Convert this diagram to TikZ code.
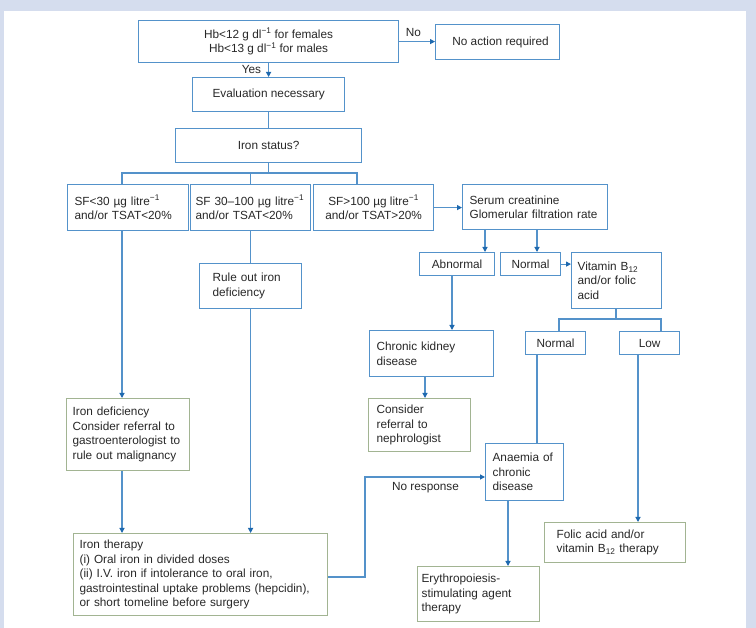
\documentclass[tikz,border=0pt]{standalone}
\usepackage{fontspec}
\setmainfont{Liberation Sans}
\usetikzlibrary{arrows.meta,calc}
\definecolor{bgc}{RGB}{213,221,238}
\definecolor{bl}{RGB}{84,146,202}
\definecolor{arr}{RGB}{30,105,175}
\definecolor{gr}{RGB}{162,180,146}
\definecolor{txt}{RGB}{40,40,40}
\begin{document}
\begin{tikzpicture}[x=1pt,y=-1pt,
  every node/.style={font=\fontsize{11.8}{14.5}\selectfont, text=txt},
  bx/.style={draw=bl, line width=1.2pt, anchor=north west, inner ysep=0pt, align=left},
  gx/.style={bx, draw=gr},
  cx/.style={bx, align=center, inner xsep=0pt},
  ln/.style={draw=bl, line width=1.1pt},
  ar/.style={ln, -{Triangle[length=5pt,width=5pt,color=arr]}},
  lbl/.style={inner sep=0pt}
]
\useasboundingbox (0,0) rectangle (756,628);
\fill[bgc] (0,0) rectangle (756,628);
\fill[white] (4,11) rectangle (746,628);

% boxes
\node[cx, minimum width=260pt, minimum height=42pt] (hb) at (138,20)
  {Hb<12 g dl\textsuperscript{−1} for females\\Hb<13 g dl\textsuperscript{−1} for males};
\node[cx, minimum width=124pt, minimum height=35pt] (noact) at (435,24) {\hspace{6pt}No action required};
\node[cx, minimum width=152pt, minimum height=34pt] (eval) at (192,77) {Evaluation necessary};
\node[cx, minimum width=186pt, minimum height=34pt] (iron) at (175,128) {Iron status?};

\node[bx, minimum width=121pt, minimum height=46pt, inner xsep=7pt, text width=107pt] (sf1) at (67,184)
  {SF<30 µg litre\textsuperscript{−1}\\and/or TSAT<20\%};
\node[bx, minimum width=120pt, minimum height=46pt, inner xsep=5pt, text width=110pt] (sf2) at (190,184)
  {SF 30–100 µg litre\textsuperscript{−1}\\and/or TSAT<20\%};
\node[cx, minimum width=120pt, minimum height=46pt] (sf3) at (313,184)
  {SF>100 µg litre\textsuperscript{−1}\\and/or TSAT>20\%};
\node[bx, minimum width=145pt, minimum height=45pt, inner xsep=7pt, text width=131pt] (serum) at (462,184)
  {Serum creatinine\\Glomerular filtration rate};

\node[cx, minimum width=75pt, minimum height=23pt] (abn) at (419,252) {Abnormal};
\node[cx, minimum width=60pt, minimum height=23pt] (norm) at (500,252) {Normal};
\node[bx, minimum width=90pt, minimum height=56pt, inner xsep=6pt, text width=78pt] (vit) at (571,252)
  {Vitamin B\textsubscript{12}\\and/or folic\\acid};
\node[bx, minimum width=102pt, minimum height=45pt, inner xsep=13pt, text width=76pt] (ruleout) at (199,263)
  {Rule out iron\\deficiency};

\node[bx, minimum width=124pt, minimum height=46pt, inner xsep=7pt, text width=110pt] (ckd) at (369,330)
  {Chronic kidney\\disease};
\node[cx, minimum width=60pt, minimum height=23pt] (norm2) at (525,331) {Normal};
\node[cx, minimum width=60pt, minimum height=23pt] (low) at (619,331) {Low};

\node[gx, minimum width=102pt, minimum height=53pt, inner xsep=8pt, text width=86pt] (neph) at (368,398)
  {Consider\\referral to\\nephrologist};
\node[gx, minimum width=123pt, minimum height=72pt, inner xsep=6pt, text width=111pt] (irondef) at (66,398)
  {Iron deficiency\\Consider referral to\\gastroenterologist to\\rule out malignancy};
\node[bx, minimum width=78pt, minimum height=57pt, inner xsep=7pt, text width=64pt] (anaem) at (485,443)
  {Anaemia of\\chronic\\disease};
\node[gx, minimum width=141pt, minimum height=40pt, inner xsep=12pt, text width=117pt] (folic) at (544,522)
  {Folic acid and/or\\vitamin B\textsubscript{12} therapy};
\node[gx, minimum width=254pt, minimum height=82pt, inner xsep=6pt, text width=242pt] (therapy) at (73,533)
  {Iron therapy\\(i) Oral iron in divided doses\\(ii) I.V. iron if intolerance to oral iron,\\gastrointestinal uptake problems (hepcidin),\\or short tomeline before surgery};
\node[gx, minimum width=122pt, minimum height=55pt, inner xsep=4pt, text width=114pt] (esa) at (417,566)
  {Erythropoiesis-\\stimulating agent\\therapy};

% labels
\node[lbl] (nolbl) at (413.5,33) {No};
\node[lbl] (yeslbl) at (251.5,70) {Yes};
\node[lbl] (nrlbl) at (425.5,488) {No response};

% connectors
\draw[ar] (hb.east) -- (hb.east -| noact.west);
\draw[ar] (hb.south) -- (eval.north);
\draw[ln] (eval.south) -- (iron.north);

\coordinate (b1) at (122,173);
\coordinate (b3) at (357,173);
\draw[ln] (iron.south) -- (iron.south |- b1);
\draw[ln] (b1 |- sf1.north) -- (b1) -- (b3) -- (b3 |- sf3.north);
\draw[ln] (sf2.north) -- (sf2.north |- b1);

\draw[ar] (sf1.south -| b1) -- (irondef.north -| b1);
\draw[ar] (irondef.south -| b1) -- (therapy.north -| b1);
\draw[ln] (sf2.south) -- (ruleout.north);
\draw[ar] (ruleout.south) -- (therapy.north -| ruleout.south);
\draw[ar] (sf3.east) -- (sf3.east -| serum.west);

\coordinate (sa) at (485,0);
\coordinate (sn) at (537,0);
\draw[ar] (serum.south -| sa) -- (abn.north -| sa);
\draw[ar] (serum.south -| sn) -- (norm.north -| sn);
\draw[ar] (norm.east) -- (norm.east -| vit.west);

\coordinate (vb) at (616,319);
\coordinate (vl) at (559,319);
\coordinate (vr) at (661,319);
\draw[ln] (vit.south -| vb) -- (vb);
\draw[ln] (vl |- norm2.north) -- (vl) -- (vr) -- (vr |- low.north);

\coordinate (ab) at (452,0);
\draw[ar] (abn.south -| ab) -- (ckd.north -| ab);
\coordinate (ck) at (425,0);
\draw[ar] (ckd.south -| ck) -- (neph.north -| ck);
\coordinate (n2) at (537,0);
\draw[ln] (norm2.south -| n2) -- (anaem.north -| n2);
\coordinate (lw) at (638,0);
\draw[ar] (low.south -| lw) -- (folic.north -| lw);
\coordinate (an) at (508,0);
\draw[ar] (anaem.south -| an) -- (esa.north -| an);

\coordinate (nr1) at (365,577);
\coordinate (nr2) at (365,477);
\draw[ar] (therapy.east |- nr1) -- (nr1) -- (nr2) -- (nr2 -| anaem.west);
\end{tikzpicture}
\end{document}
